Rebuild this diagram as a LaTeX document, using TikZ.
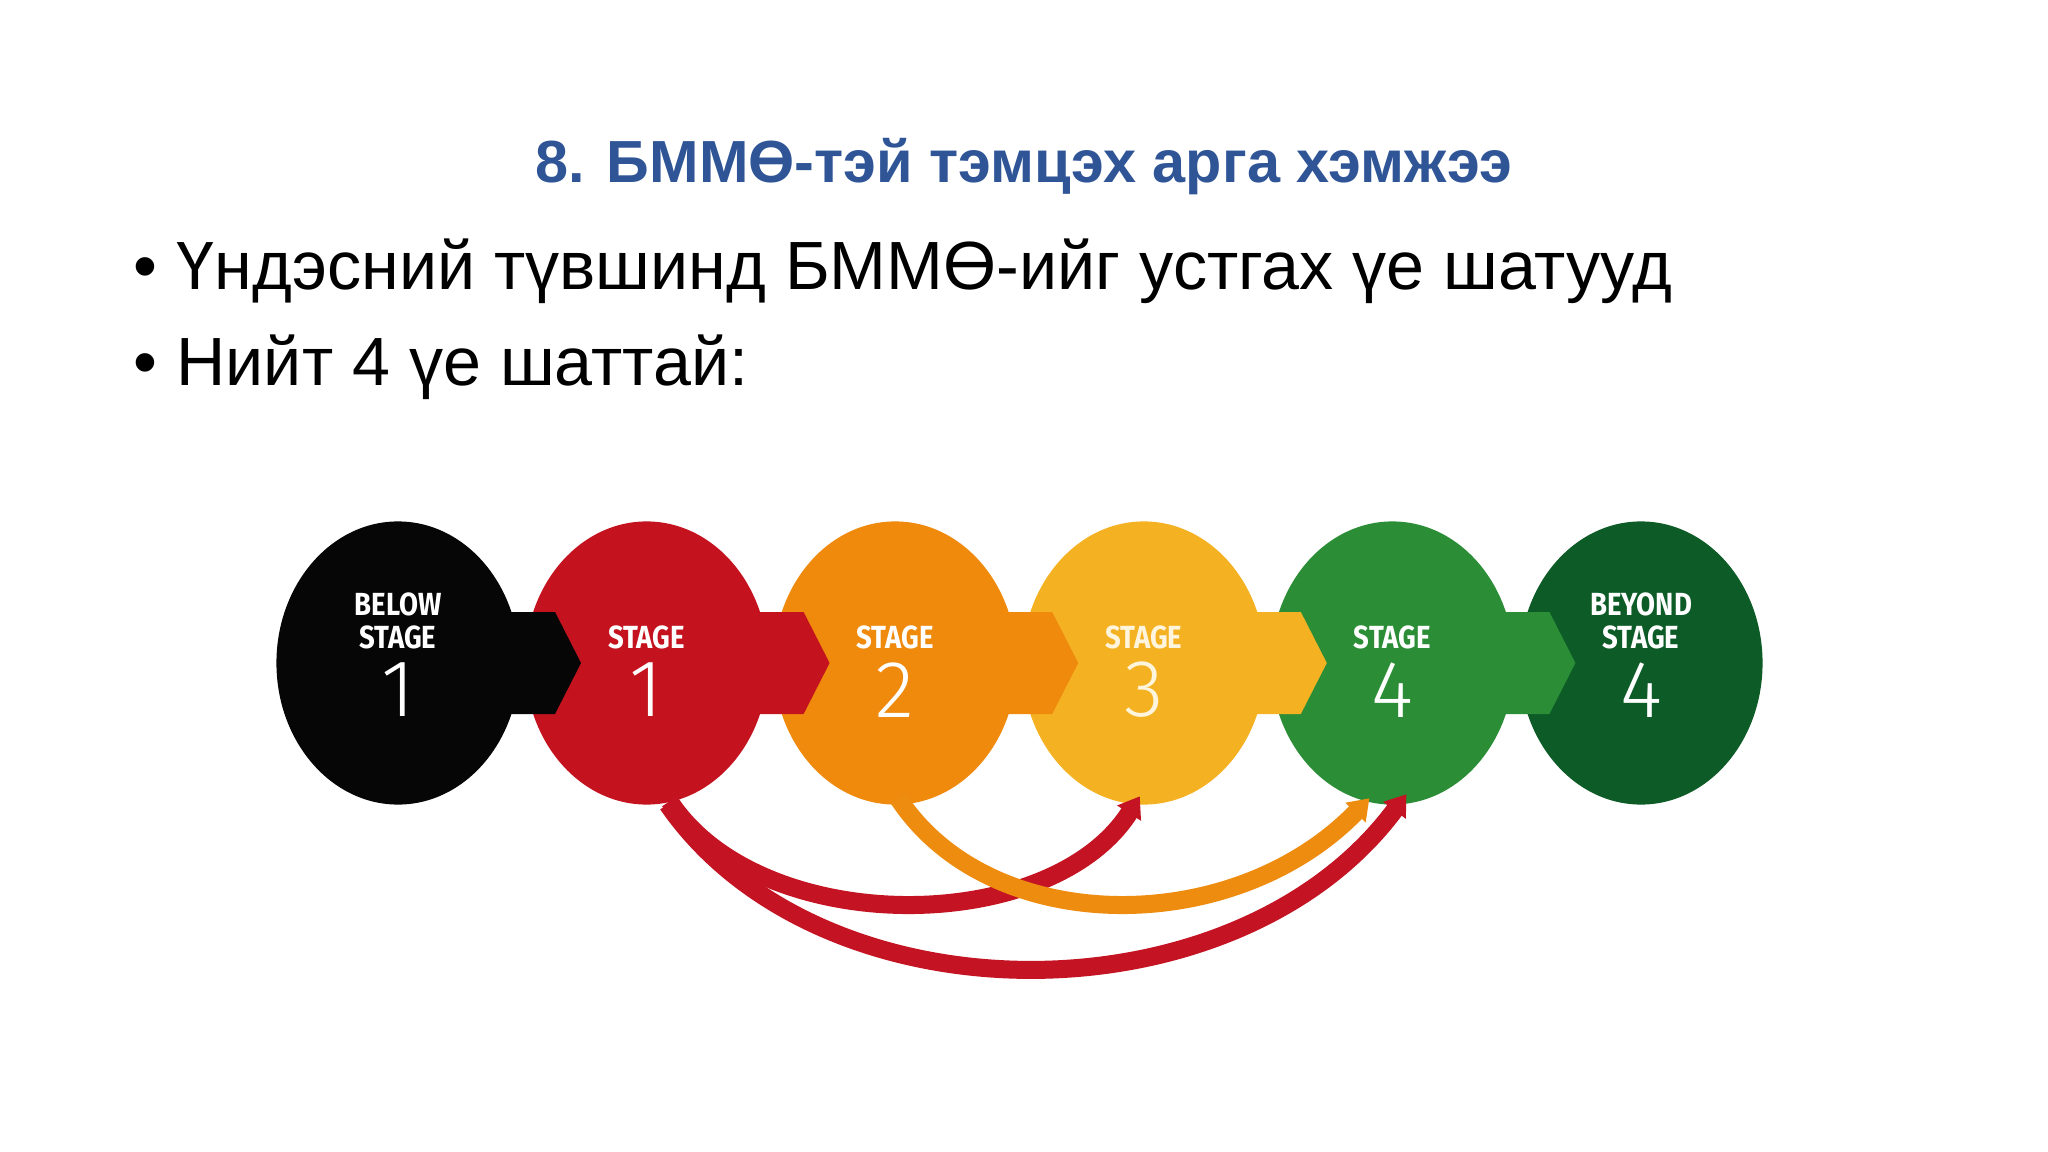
\documentclass[tikz,border=0pt]{standalone}
\usepackage{fontspec}
\setmainfont{Liberation Sans}
\newfontfamily\stagefont{Fira Sans}[FakeStretch=0.86]
\newfontfamily\numfont{Fira Sans Light}
\usetikzlibrary{shapes.geometric,arrows.meta}

\definecolor{titleblue}{HTML}{2F5597}
\definecolor{blk}{HTML}{060606}
\definecolor{redc}{HTML}{C4121F}
\definecolor{orangec}{HTML}{EF8A0C}
\definecolor{yellowc}{HTML}{F4B223}
\definecolor{greenc}{HTML}{2B8E36}
\definecolor{dgreenc}{HTML}{0D5B26}
\definecolor{curvered}{HTML}{C41424}
\definecolor{curveorange}{HTML}{EE8C10}
\definecolor{cream}{HTML}{FFF4DC}

\begin{document}
\begin{tikzpicture}[x=0.01cm, y=-0.01cm,
  stage/.style={ellipse, minimum width=2.43cm, minimum height=2.83cm, inner sep=0pt},
  stagetxt/.style={text=white, inner sep=0pt, font=\stagefont\bfseries\fontsize{9.1}{9.1}\selectfont},
  stagenum/.style={text=white, inner sep=0pt, font=\numfont\fontsize{23}{23}\selectfont},
  jump/.style={line width=0.18cm, -{Triangle[length=0.2cm, width=0.27cm]}}]

\fill[white] (0,0) rectangle (2048,1152);
\useasboundingbox (0,0) rectangle (2048,1152);

% heading and bullets
\node [anchor=base, inner sep=0pt, text=titleblue, font=\bfseries\fontsize{16.9}{20}\selectfont] (title) at (1024,183) {8. БММӨ-тэй тэмцэх арга хэмжээ};
\node [anchor=base west, inner sep=0pt, font=\fontsize{19.4}{23}\selectfont] (item1) at (133,290) {• Үндэсний түвшинд БММӨ-ийг устгах үе шатууд};
\node [anchor=base west, inner sep=0pt, font=\fontsize{19.4}{23}\selectfont] (item2) at (133,386) {• Нийт 4 үе шаттай:};

% stages
\node [stage, fill=blk] (s0) at (398,663) {};
\node [stage, fill=redc] (s1) at (646.6,663) {};
\node [stage, fill=orangec] (s2) at (895.2,663) {};
\node [stage, fill=yellowc] (s3) at (1143.8,663) {};
\node [stage, fill=greenc] (s4) at (1392.4,663) {};
\node [stage, fill=dgreenc] (s5) at (1641,663) {};

% arrows from one stage into the next
\fill[blk] ([shift={(100,-51)}]s0.center) -- ++(57,0) -- ++(26,51) -- ++(-26,51) -- ++(-57,0) -- cycle;
\fill[redc] ([shift={(100,-51)}]s1.center) -- ++(57,0) -- ++(26,51) -- ++(-26,51) -- ++(-57,0) -- cycle;
\fill[orangec] ([shift={(100,-51)}]s2.center) -- ++(57,0) -- ++(26,51) -- ++(-26,51) -- ++(-57,0) -- cycle;
\fill[yellowc] ([shift={(100,-51)}]s3.center) -- ++(57,0) -- ++(26,51) -- ++(-26,51) -- ++(-57,0) -- cycle;
\fill[greenc] ([shift={(100,-51)}]s4.center) -- ++(57,0) -- ++(26,51) -- ++(-26,51) -- ++(-57,0) -- cycle;

% labels
\node [stagetxt] (b0) at ([shift={(0,-59)}]s0.center) {BELOW};
\node [stagetxt] (l0) at ([shift={(0,-26)}]s0.center) {STAGE};
\node [stagenum] (n0) at ([shift={(0,27)}]s0.center) {1};
\node [stagetxt] (l1) at ([shift={(0,-26)}]s1.center) {STAGE};
\node [stagenum] (n1) at ([shift={(0,27)}]s1.center) {1};
\node [stagetxt] (l2) at ([shift={(0,-26)}]s2.center) {STAGE};
\node [stagenum] (n2) at ([shift={(0,27)}]s2.center) {2};
\node [stagetxt, text=cream] (l3) at ([shift={(0,-26)}]s3.center) {STAGE};
\node [stagenum, text=cream] (n3) at ([shift={(0,27)}]s3.center) {3};
\node [stagetxt] (l4) at ([shift={(0,-26)}]s4.center) {STAGE};
\node [stagenum] (n4) at ([shift={(0,27)}]s4.center) {4};
\node [stagetxt] (b5) at ([shift={(0,-59)}]s5.center) {BEYOND};
\node [stagetxt] (l5) at ([shift={(0,-26)}]s5.center) {STAGE};
\node [stagenum] (n5) at ([shift={(0,27)}]s5.center) {4};

% jumps below
\draw[jump, curvered] ([shift={(23,-4)}]s1.south) .. controls +(90,137) and +(-90,141) .. ([shift={(-4,-9)}]s3.south);
\draw[jump, curveorange] ([shift={(3,-7)}]s2.south) .. controls +(92,140) and +(-136,140) .. ([shift={(-23,-7)}]s4.south);
\draw[jump, curvered] ([shift={(21,-1)}]s1.south) .. controls +(152,220) and +(-171,230) .. ([shift={(14,-11)}]s4.south);

\end{tikzpicture}
\end{document}
